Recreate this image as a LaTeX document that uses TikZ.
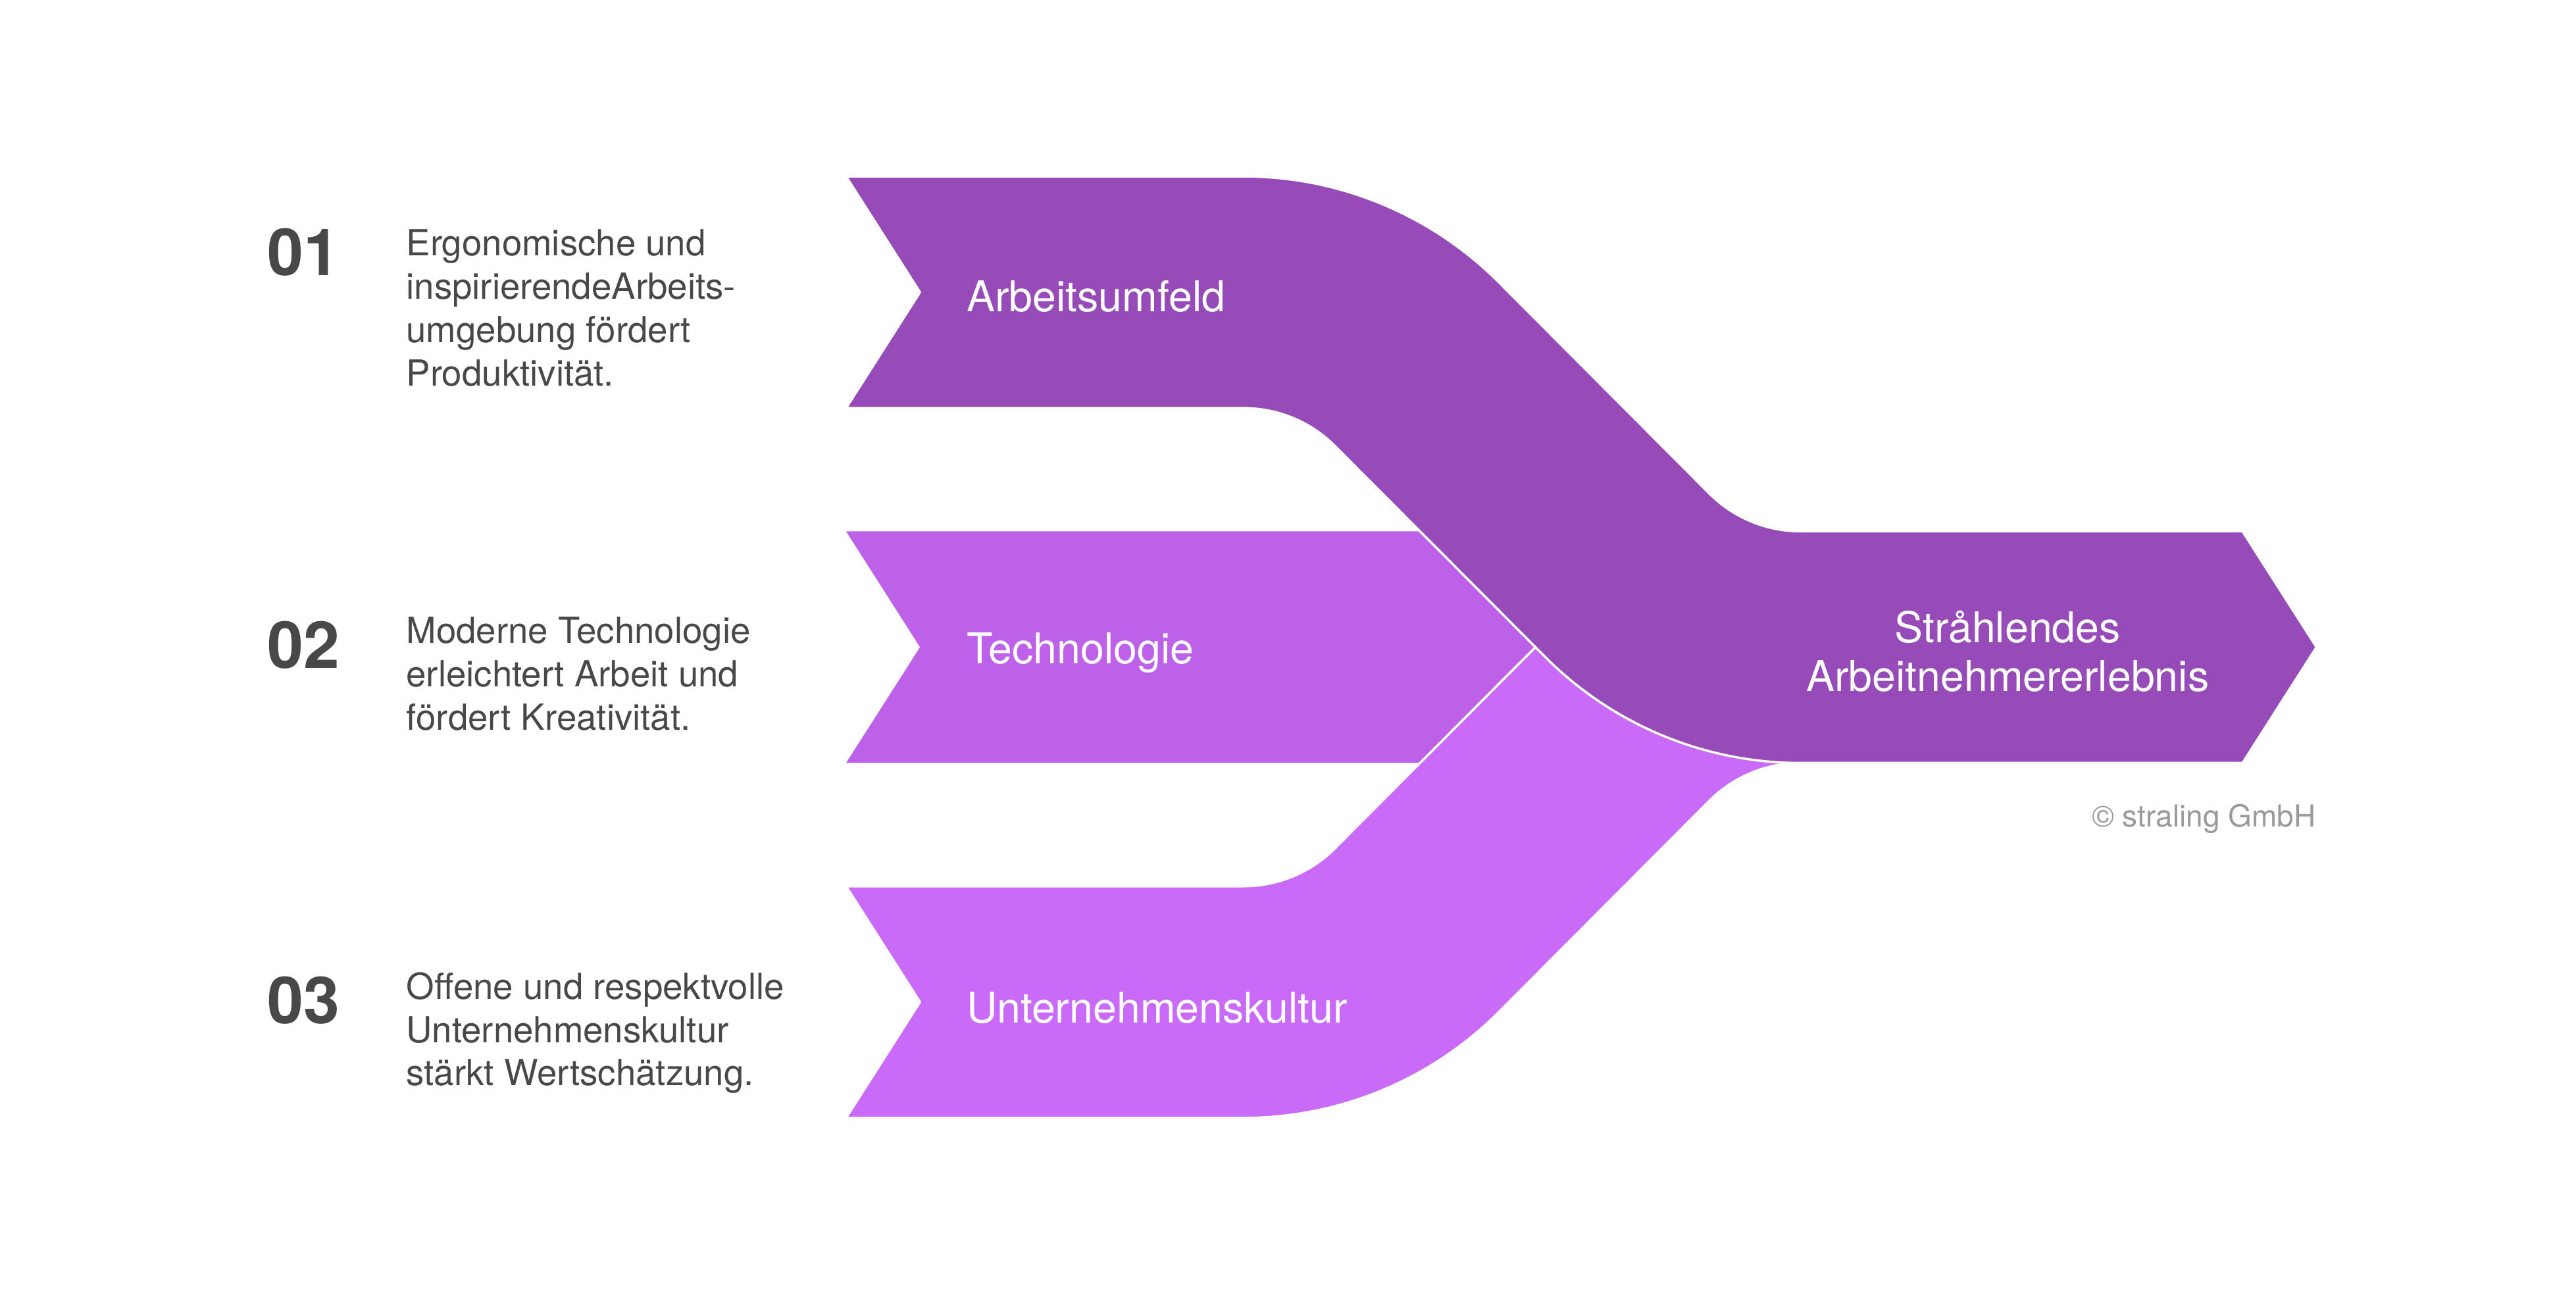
\documentclass[tikz,border=0pt]{standalone}
\usepackage{fontspec}
\setmainfont{TeX Gyre Heros}
\definecolor{topband}{HTML}{964BB8}
\definecolor{midband}{HTML}{BE61E9}
\definecolor{lowband}{HTML}{C96BF8}
\definecolor{txtgray}{HTML}{484848}
\definecolor{copygray}{HTML}{9A9A9A}
\tikzset{
  bandshape/.style={draw=white, line width=0.8pt, line join=round},
  lbl/.style={text=white, font=\fontsize{14.7}{17}\selectfont, inner sep=0pt},
  numlbl/.style={text=txtgray, font=\fontsize{22.5}{24}\selectfont\bfseries, inner sep=0pt, anchor=east},
  desc/.style={text=txtgray, font=\fontsize{12.45}{15}\selectfont, align=left, inner sep=0pt, anchor=north west},
}
\begin{document}
\begin{tikzpicture}[x=0.02cm,y=0.02cm]
\useasboundingbox (0,0) rectangle (1568,789.4);
\fill[white] (0,0) rectangle (1568,789.4);

% middle band (Technologie)
\fill[midband] (515,466) -- (866,466) -- (937,395.5) -- (866,325) -- (515,325) -- (560,395.5) -- cycle;

% lower band (Unternehmenskultur)
\filldraw[bandshape, fill=lowband] (515,109) -- (757,109)
  arc[start angle=-90, end angle=-45, radius=219.5]
  -- (1040.49,302.01)
  arc[start angle=135, end angle=90, radius=78.5]
  -- (1096,466)
  arc[start angle=90, end angle=135, radius=219.5]
  -- (812.51,272.99)
  arc[start angle=-45, end angle=-90, radius=78.5]
  -- (515,250) -- (560,179.5) -- cycle;

% upper band (Arbeitsumfeld) with final arrow
\filldraw[bandshape, fill=topband] (515,682) -- (757,682)
  arc[start angle=90, end angle=45, radius=219.5]
  -- (1040.49,488.99)
  arc[start angle=225, end angle=270, radius=78.5]
  -- (1365,466) -- (1410,395.5) -- (1365,325) -- (1096,325)
  arc[start angle=270, end angle=225, radius=219.5]
  -- (812.51,518.01)
  arc[start angle=45, end angle=90, radius=78.5]
  -- (515,541) -- (560,611.5) -- cycle;

% band labels
\node[lbl, anchor=west] (l1) at (588,609) {Arbeitsumfeld};
\node[lbl, anchor=west] (l2) at (588,392) {Technologie};
\node[lbl, anchor=west] (l3) at (588,176) {Unternehmenskultur};
\node[lbl, align=center] (res) at (1222,393) {Stråhlendes\\Arbeitnehmererlebnis};

% numbers
\node[numlbl] (n1) at (207,636) {01};
\node[numlbl] (n2) at (207,397) {02};
\node[numlbl] (n3) at (207,180.6) {03};

% descriptions
\node[desc] (d1) at (247,650) {Ergonomische und\\inspirierendeArbeits-\\umgebung fördert\\Produktivität.};
\node[desc] (d2) at (247,414) {Moderne Technologie\\erleichtert Arbeit und\\fördert Kreativität.};
\node[desc] (d3) at (247,198) {Offene und respektvolle\\Unternehmenskultur\\stärkt Wertschätzung.};

% copyright
\node[text=copygray, font=\fontsize{10.5}{12}\selectfont, inner sep=0pt, anchor=east] (copy) at (1410,291) {© straling GmbH};
\end{tikzpicture}
\end{document}
